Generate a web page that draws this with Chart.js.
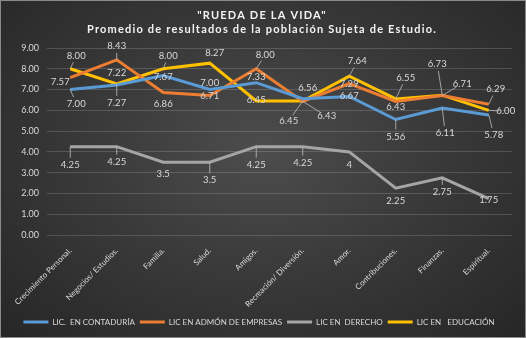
<!DOCTYPE html>
<html>
<head>
<meta charset="utf-8">
<script src="https://cdn.jsdelivr.net/npm/chart.js@4.4.1/dist/chart.umd.min.js"></script>
<style>
  html, body { margin: 0; padding: 0; background: #262626; }
  #wrap {
    position: relative; width: 526px; height: 338px;
    background: radial-gradient(ellipse at 50% 45%, #4d4d4d 0%, #3a3a3a 45%, #262626 100%);
    box-shadow: inset 0 0 0 1px #8a8a8a;
  }
  canvas { position: absolute; left: 0; top: 0; }
</style>
</head>
<body>
<div id="wrap"><canvas id="chart" width="526" height="338"></canvas></div>
<script>
const categories = ["Crecimiento Personal.", "Negocios/ Estudios.", "Familia.", "Salud.", "Amigos.",
  "Recreación/ Diversión.", "Amor.", "Contribuciones.", "Finanzas.", "Espiritual."];
const contaduria = [7.00, 7.22, 7.67, 7.00, 7.33, 6.56, 6.67, 5.56, 6.11, 5.78];
const admon = [7.57, 8.43, 6.86, 6.71, 8.00, 6.43, 7.29, 6.43, 6.71, 6.29];
const derecho = [4.25, 4.25, 3.5, 3.5, 4.25, 4.25, 4, 2.25, 2.75, 1.75];
const educacion = [8.00, 7.27, 8.00, 8.27, 6.45, 6.45, 7.64, 6.55, 6.73, 6.00];
const yTicks = [0, 1, 2, 3, 4, 5, 6, 7, 8, 9];

// where each value label sits relative to its point (dx, dy)
const labelOffsets = [
  [[6,14],[0,-12],[0,1],[0,-7],[0,-6],[5,-11],[0,0],[0,17],[3,25],[5,20]],
  [[-10,4],[0,-14],[0,11],[0,0],[9,-14],[24,15],[0,0],[0,6],[20,-12],[7,-15]],
  [[0,18],[0,15],[0,12],[0,18],[0,18],[0,16],[0,13],[0,13],[0,14],[0,1]],
  [[6,-13],[0,19],[5,-13],[5,-10],[0,-1],[-14,20],[8,-15],[10,-21],[-5,-31],[17,1]]
];

const FONT = "Lato";

const valueLabels = {
  id: "valueLabels",
  afterDatasetsDraw(chart) {
    const ctx = chart.ctx;
    ctx.save();
    ctx.font = "9.5px " + FONT;
    ctx.textAlign = "center";
    ctx.textBaseline = "middle";
    chart.data.datasets.forEach((ds, di) => {
      chart.getDatasetMeta(di).data.forEach((pt, i) => {
        const [dx, dy] = labelOffsets[di][i];
        const txt = di === 2 ? String(ds.data[i]) : ds.data[i].toFixed(2);
        const lx = pt.x + dx, ly = pt.y + dy;
        const dist = Math.hypot(dx, dy);
        if (dist > 13) {
          const k = (dist - 7) / dist;
          ctx.strokeStyle = "#bfbfbf";
          ctx.lineWidth = 0.8;
          ctx.beginPath();
          ctx.moveTo(pt.x, pt.y);
          ctx.lineTo(pt.x + dx * k, pt.y + dy * k);
          ctx.stroke();
        }
        ctx.fillStyle = "#d9d9d9";
        ctx.fillText(txt, lx, ly);
      });
    });
    ctx.restore();
  }
};

const titleText = {
  id: "titleText",
  afterDraw(chart) {
    const ctx = chart.ctx;
    ctx.save();
    ctx.fillStyle = "#f2f2f2";
    ctx.font = "bold 11px " + FONT;
    ctx.letterSpacing = "1.2px";
    ctx.textAlign = "center";
    ctx.textBaseline = "middle";
    ctx.fillText("\"RUEDA DE LA VIDA\"", 262, 15);
    ctx.fillText("Promedio de resultados de la población Sujeta de Estudio.", 262, 29);
    ctx.restore();
  }
};

const mk = (label, data, color) => ({
  label, data, borderColor: color, backgroundColor: color,
  borderWidth: 3, pointRadius: 0, tension: 0, fill: false
});

new Chart(document.getElementById("chart"), {
  type: "line",
  data: {
    labels: categories,
    datasets: [
      mk("LIC.  EN CONTADURÍA", contaduria, "#5B9BD5"),
      mk("LIC EN ADMÓN DE EMPRESAS", admon, "#ED7D31"),
      mk("LIC EN  DERECHO", derecho, "#A5A5A5"),
      mk("LIC EN   EDUCACIÓN", educacion, "#FFC000")
    ]
  },
  options: {
    responsive: false,
    animation: false,
    layout: { padding: { top: 48, left: 6, right: 14, bottom: 2 } },
    plugins: {
      legend: {
        position: "bottom",
        labels: {
          color: "#d9d9d9",
          font: { family: FONT, size: 8 },
          boxWidth: 25, boxHeight: 3, padding: 5,
          generateLabels(chart) {
            return Chart.defaults.plugins.legend.labels.generateLabels(chart).map(l => {
              l.lineWidth = 0;
              l.fillStyle = chart.data.datasets[l.datasetIndex].borderColor;
              return l;
            });
          }
        }
      },
      tooltip: { enabled: false }
    },
    scales: {
      x: {
        offset: true,
        afterFit(scale) { scale.height = 78; },
        grid: { display: false },
        border: { display: false },
        ticks: {
          color: "#d9d9d9", maxRotation: 45, minRotation: 45, autoSkip: false,
          font: { family: FONT, size: 8 }
        }
      },
      y: {
        min: 0, max: 9,
        afterBuildTicks(scale) { scale.ticks = yTicks.map(v => ({ value: v })); },
        afterFit(scale) { scale.width = 41; },
        grid: { color: "rgba(255,255,255,0.16)", drawTicks: false },
        border: { display: false },
        ticks: {
          color: "#d9d9d9", padding: 8,
          font: { family: FONT, size: 9 },
          callback: v => Number(v).toFixed(2)
        }
      }
    }
  },
  plugins: [valueLabels, titleText]
});
</script>
</body>
</html>
